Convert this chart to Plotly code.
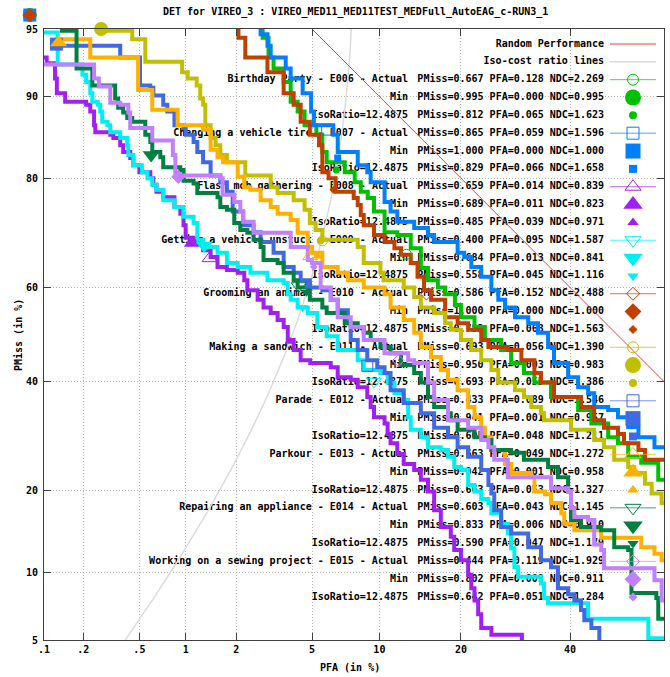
import numpy as np
import plotly.graph_objects as go
from statistics import NormalDist

# ------------------------------------------------------------------ data
TITLE = "DET for VIREO_3 : VIREO_MED11_MED11TEST_MEDFull_AutoEAG_c-RUN3_1"
X_TICKS = [0.1, 0.2, 0.5, 1, 2, 5, 10, 20, 40, 60]
X_TICK_TEXT = [".1", ".2", ".5", "1", "2", "5", "10", "20", "40", "60"]
Y_TICKS = [5, 10, 20, 40, 60, 80, 90, 95]
Y_TICK_TEXT = ["5", "10", "20", "40", "60", "80", "90", "95"]
ISO_RATIO = 12.4875

EVENTS = ["Birthday Party - E006", "Changing a vehicle tire - E007",
          "Flash mob gathering - E008", "Getting a vehicle unstuck - E009",
          "Grooming an animal - E010", "Making a sandwich - E011",
          "Parade - E012", "Parkour - E013", "Repairing an appliance - E014",
          "Working on a sewing project - E015"]
COLORS = ["#00c000", "#0080ff", "#a020f0", "#00f0f0", "#c04000",
          "#c0c000", "#4169e1", "#ffb000", "#008040", "#c080ff"]
SYMBOLS = ["circle", "square", "triangle-up", "triangle-down", "diamond",
           "circle", "square", "triangle-up", "triangle-down", "diamond"]

ACTUAL_PMISS = [0.667, 0.865, 0.659, 0.400, 0.586, 0.693, 0.433, 0.663, 0.603, 0.444]
ACTUAL_PFA = [0.128, 0.059, 0.014, 0.095, 0.152, 0.056, 0.089, 0.049, 0.043, 0.119]
ACTUAL_NDC = [2.269, 1.596, 0.839, 1.587, 2.488, 1.390, 1.546, 1.272, 1.145, 1.929]
MIN_PMISS = [0.995, 1.000, 0.689, 0.684, 1.000, 0.950, 0.941, 0.942, 0.833, 0.802]
MIN_PFA = [0.0, 0.0, 0.011, 0.013, 0.0, 0.0027, 0.00125, 0.0013, 0.006, 0.009]
MIN_NDC = [0.995, 1.000, 0.823, 0.841, 1.000, 0.983, 0.957, 0.958, 0.910, 0.911]
ISO_PMISS = [0.812, 0.829, 0.485, 0.558, 0.782, 0.693, 0.605, 0.663, 0.590, 0.642]
ISO_PFA = [0.065, 0.066, 0.039, 0.045, 0.063, 0.055, 0.048, 0.053, 0.047, 0.051]
ISO_NDC = [1.623, 1.658, 0.971, 1.116, 1.563, 1.386, 1.211, 1.327, 1.179, 1.284]

# DET curves (PFA %, PMiss %), step points
E006_PFA = [2.73, 2.80, 3.01, 3.20, 3.61, 3.92, 4.25, 4.60, 5.25, 5.60, 5.87, 7.10, 7.86, 8.35, 8.94, 9.5, 10.5, 11.8, 13.3, 14.5, 15.4, 16.7, 17.7, 19.1, 20.0, 22.1, 23.8, 26.6, 28.4, 30.8, 32.8, 36.1, 41.7, 44.5, 48.1, 50.2, 52.4, 55.2, 58.8, 62.0]
E006_PMISS = [97.0, 94.5, 93.2, 92.4, 91.3, 89.5, 88.5, 87.0, 85.9, 83.7, 82.3, 80.9, 79.4, 77.9, 76.9, 74.6, 70.9, 70.4, 67.9, 64.0, 61.5, 60.0, 58.6, 56.3, 53.7, 51.6, 48.8, 46.7, 43.9, 41.8, 39.8, 36.8, 34.2, 31.6, 29.0, 27.9, 25.5, 24.5, 21.7, 21.0]
E007_PFA = [2.63, 2.73, 2.97, 3.09, 3.70, 3.92, 4.50, 4.95, 5.1, 6.3, 6.6, 8.1, 8.9, 9.2, 10.5, 11.1, 11.8, 13.7, 15.4, 16.2, 19.5, 20.5, 21.6, 23.2, 24.9, 26.1, 27.3, 29.1, 31.6, 33.5, 35.5, 36.7, 39.6, 41.7, 43.8, 45.1, 48.1, 50.2, 52.4, 54.6, 58.0, 61.5]
E007_PMISS = [97.0, 94.7, 94.0, 93.2, 92.4, 91.6, 90.3, 88.5, 87.0, 85.9, 83.7, 81.9, 80.9, 79.4, 76.2, 74.6, 72.8, 71.7, 70.4, 69.1, 67.0, 66.2, 64.2, 62.2, 59.4, 57.4, 55.8, 53.7, 52.4, 50.4, 47.3, 43.9, 40.9, 38.8, 37.6, 34.8, 34.2, 32.8, 30.9, 29.0, 27.2, 25.5]
E008_PFA = [0.100, 0.105, 0.122, 0.126, 0.146, 0.21, 0.225, 0.24, 0.245, 0.314, 0.33, 0.369, 0.387, 0.433, 0.455, 0.50, 0.592, 0.62, 0.65, 0.72, 0.85, 0.926, 0.97, 1.0, 1.12, 1.28, 1.42, 1.56, 1.77, 2.04, 2.22, 2.31, 2.63, 2.83, 3.09, 3.36, 3.61, 3.79, 4.06, 4.40, 4.9, 6.13, 6.6, 7.55, 8.1, 8.9, 9.2, 9.5, 10.5, 10.8, 11.1, 11.8, 12.5, 13.7, 14.5, 15.4, 16.2, 17.1, 18.5, 19.0, 20.0, 21.1, 21.6, 22.1, 22.7, 23.2, 24.9, 30.4]
E008_PMISS = [93.2, 92.8, 91.6, 90.3, 89.5, 89.2, 88.5, 87.0, 86.2, 85.9, 85.5, 84.6, 83.7, 82.9, 81.9, 80.9, 80.0, 79.0, 77.9, 77.0, 75.4, 74.2, 72.2, 69.9, 68.7, 67.5, 66.2, 64.2, 63.6, 63.0, 61.5, 59.4, 57.4, 55.8, 54.6, 53.1, 51.6, 48.8, 46.7, 44.5, 43.9, 43.0, 40.9, 40.4, 38.8, 36.8, 34.8, 32.8, 31.6, 29.6, 27.9, 26.0, 24.3, 23.3, 21.7, 19.9, 17.2, 15.0, 13.8, 12.3, 11.2, 9.8, 8.6, 7.6, 6.6, 5.7, 5.3, 4.7]
E009_PFA = [0.100, 0.128, 0.197, 0.21, 0.225, 0.233, 0.255, 0.266, 0.275, 0.30, 0.314, 0.369, 0.413, 0.42, 0.455, 0.52, 0.566, 0.61, 0.65, 0.72, 0.85, 0.97, 1.12, 1.18, 1.28, 1.56, 1.77, 2.04, 2.40, 2.97, 3.61, 3.79, 3.92, 4.25, 4.77, 5.3, 5.87, 6.6, 8.1, 8.6, 10.1, 10.8, 11.5, 12.5, 13.0, 13.3, 14.5, 15.4, 17.1, 18.1, 19.0, 20.0, 21.1, 22.1, 23.2, 24.4, 24.9, 26.6, 27.8, 28.4, 29.0, 29.7, 34.1, 34.7, 35.5, 43.8, 56.7, 61.0]
E009_PMISS = [94.8, 92.7, 91.9, 91.3, 90.3, 89.5, 89.2, 88.5, 87.4, 87.0, 86.2, 85.5, 84.6, 83.3, 81.9, 80.9, 80.0, 79.0, 78.2, 76.5, 75.4, 73.7, 72.6, 69.5, 68.1, 67.0, 65.0, 64.2, 63.0, 61.5, 60.9, 58.6, 57.4, 55.8, 54.6, 51.6, 49.6, 46.7, 44.5, 42.4, 41.8, 39.8, 37.6, 36.2, 32.8, 30.4, 29.0, 27.2, 26.7, 25.5, 23.8, 23.3, 20.9, 19.9, 18.8, 18.2, 16.8, 15.4, 14.2, 12.5, 10.5, 9.6, 9.0, 7.8, 7.4, 6.3, 5.1, 5.1]
E010_PFA = [2.04, 2.06, 2.25, 2.97, 3.61, 4.06, 4.40, 4.88, 5.4, 5.6, 5.99, 6.46, 7.78, 8.1, 8.35, 8.6, 9.5, 10.5, 11.5, 12.2, 13.3, 14.1, 14.9, 15.8, 17.7, 19.5, 21.1, 23.2, 24.4, 27.8, 30.3, 32.8, 34.1, 36.7, 42.3, 45.1, 47.2, 50.2, 51.5, 54.6, 56.0, 61.5]
E010_PMISS = [97.0, 94.5, 93.2, 92.1, 90.3, 89.2, 87.4, 85.9, 84.6, 80.9, 80.0, 77.9, 76.9, 75.7, 74.0, 72.2, 70.4, 69.1, 67.9, 66.6, 65.0, 62.2, 59.4, 57.4, 53.7, 52.4, 51.0, 48.8, 47.3, 46.7, 44.5, 41.8, 39.8, 36.8, 34.8, 32.2, 30.8, 29.6, 27.9, 26.7, 25.0, 24.5]
E011_PFA = [0.266, 0.447, 0.548, 0.95, 1.03, 1.17, 1.23, 1.28, 1.32, 1.42, 1.52, 1.62, 1.77, 2.25, 3.09, 3.36, 4.06, 4.60, 4.88, 5.2, 5.6, 8.1, 8.6, 10.1, 10.4, 12.5, 13.7, 14.5, 16.2, 17.7, 18.5, 20.0, 21.6, 23.2, 24.9, 26.1, 29.1, 30.8, 32.2, 34.1, 34.7, 40.2, 45.1, 47.2, 49.4, 52.4, 53.7, 56.0, 57.4, 59.5, 61.5]
E011_PMISS = [94.9, 94.4, 92.9, 92.1, 91.6, 91.0, 89.8, 89.2, 87.0, 85.5, 84.6, 83.3, 82.3, 80.4, 78.6, 77.7, 76.5, 74.9, 72.6, 71.3, 69.5, 68.1, 65.0, 63.0, 61.5, 60.0, 58.0, 55.8, 54.6, 52.4, 51.0, 48.8, 46.7, 44.5, 42.4, 39.8, 38.2, 36.8, 34.8, 33.6, 32.2, 30.4, 28.5, 27.2, 25.0, 23.8, 22.8, 21.1, 19.6, 18.2, 17.2]
E012_PFA = [0.126, 0.369, 0.505, 0.592, 0.62, 0.72, 0.765, 0.85, 0.97, 1.0, 1.12, 1.18, 1.28, 1.42, 1.62, 1.77, 1.91, 2.19, 2.50, 2.73, 3.20, 3.61, 4.06, 4.40, 4.88, 5.6, 6.13, 6.6, 7.33, 7.55, 8.1, 8.9, 9.8, 10.5, 11.1, 12.5, 14.5, 16.2, 18.1, 19.5, 21.1, 23.2, 24.4, 24.9, 25.4, 26.6, 28.4, 31.6, 34.1, 36.1, 37.5, 39.6, 40.9, 42.3, 43.0, 44.5, 46.2]
E012_PMISS = [94.0, 93.2, 91.0, 90.8, 90.1, 89.2, 88.5, 87.0, 86.7, 85.9, 85.0, 83.7, 82.3, 80.4, 79.4, 77.9, 74.6, 72.2, 70.9, 69.1, 67.0, 64.2, 63.0, 61.5, 60.0, 59.4, 57.4, 55.2, 52.4, 48.8, 46.7, 44.5, 43.0, 41.8, 38.2, 35.6, 33.6, 30.8, 29.0, 27.2, 25.5, 23.3, 20.9, 19.6, 17.2, 15.0, 14.2, 12.6, 11.2, 10.5, 8.6, 8.1, 7.6, 6.9, 6.2, 5.7, 4.7]
E013_PFA = [0.122, 0.225, 0.49, 0.61, 0.89, 1.28, 1.42, 1.56, 1.68, 2.04, 2.22, 2.40, 2.73, 3.09, 3.36, 3.92, 4.25, 4.77, 5.0, 5.6, 6.6, 7.33, 8.6, 10.5, 11.1, 12.5, 13.7, 14.5, 15.8, 17.1, 18.1, 19.5, 21.1, 22.1, 23.2, 23.8, 24.9, 27.3, 28.4, 32.2, 32.8, 34.9, 36.1, 38.2, 38.8, 40.9, 46.6, 55.2, 58.0, 59.5, 61.0]
E013_PMISS = [94.4, 93.2, 90.6, 88.7, 87.0, 86.5, 84.0, 83.0, 82.3, 80.2, 78.6, 78.2, 76.5, 75.4, 74.2, 73.1, 70.8, 68.1, 67.0, 64.2, 63.0, 61.5, 60.0, 58.6, 55.8, 53.1, 50.4, 47.3, 45.2, 42.4, 40.4, 38.2, 34.8, 32.8, 30.8, 29.0, 26.7, 24.3, 22.8, 22.1, 19.9, 19.5, 18.2, 16.8, 15.4, 14.6, 13.7, 12.6, 11.9, 11.2, 9.8]
E014_PFA = [0.133, 0.178, 0.233, 0.340, 0.357, 0.387, 0.413, 0.447, 0.548, 0.592, 0.61, 0.689, 0.72, 0.926, 0.97, 1.12, 1.18, 1.56, 1.62, 1.77, 1.95, 2.11, 2.31, 2.50, 2.73, 2.83, 3.36, 3.61, 4.06, 4.25, 4.77, 4.88, 5.6, 5.87, 7.1, 8.1, 8.6, 9.2, 10.1, 11.1, 12.2, 13.7, 14.5, 15.4, 16.2, 18.1, 18.5, 19.5, 22.1, 23.8, 24.9, 28.4, 30.8, 35.5, 37.5, 39.6, 40.2, 42.3, 46.6, 49.4, 52.4, 53.1, 58.4, 58.8, 60.5]
E014_PMISS = [94.9, 92.4, 91.0, 89.8, 88.9, 88.4, 87.8, 87.4, 85.9, 85.0, 83.7, 83.0, 81.6, 81.2, 79.6, 79.2, 77.7, 77.0, 75.4, 74.9, 72.6, 71.3, 70.8, 69.5, 68.1, 65.6, 65.0, 63.0, 61.5, 60.0, 59.4, 57.4, 55.8, 54.6, 52.4, 51.6, 50.4, 48.8, 47.3, 46.0, 43.5, 41.8, 39.8, 36.8, 34.8, 33.6, 32.2, 30.4, 29.0, 28.5, 26.7, 26.2, 25.0, 23.8, 22.1, 19.9, 15.9, 15.0, 14.6, 12.6, 12.3, 8.2, 7.8, 6.3, 4.7]
E015_PFA = [0.100, 0.24, 0.26, 0.314, 0.369, 0.42, 0.433, 0.61, 0.83, 0.861, 1.62, 1.67, 1.95, 2.11, 2.19, 2.50, 3.92, 4.77, 5.0, 5.5, 6.13, 6.6, 7.55, 8.6, 10.5, 13.0, 13.7, 15.4, 16.2, 18.1, 21.1, 23.2, 24.4, 25.4, 27.8, 36.1, 39.6, 40.2, 40.9, 43.8, 45.1, 46.6, 47.2, 58.0, 59.5, 61.5]
E015_PMISS = [92.7, 91.6, 90.9, 89.4, 89.2, 88.4, 86.7, 85.2, 83.3, 80.4, 80.0, 77.4, 76.2, 74.6, 72.8, 70.8, 68.1, 65.6, 65.0, 60.0, 57.4, 53.7, 51.6, 48.8, 46.0, 44.5, 43.9, 39.8, 36.2, 32.2, 30.8, 28.5, 27.2, 25.0, 22.1, 20.4, 19.9, 17.5, 16.3, 15.9, 12.9, 12.3, 10.4, 9.3, 7.6, 7.3]

CURVES_PFA = [E006_PFA, E007_PFA, E008_PFA, E009_PFA, E010_PFA,
              E011_PFA, E012_PFA, E013_PFA, E014_PFA, E015_PFA]
CURVES_PMISS = [E006_PMISS, E007_PMISS, E008_PMISS, E009_PMISS, E010_PMISS,
                E011_PMISS, E012_PMISS, E013_PMISS, E014_PMISS, E015_PMISS]

# ------------------------------------------------------------------ scale (normal deviate)
ND = NormalDist()
PFA_FLOOR, PMISS_CEIL = 0.00077, 0.9573   # where 0 / 1 values are drawn (outside the frame)


def z(p):
    p = min(max(p, 1e-9), 1 - 1e-9)
    return ND.inv_cdf(p)


def zx(p):
    return z(max(p, PFA_FLOOR))


def zy(p):
    return z(min(p, PMISS_CEIL))


W, H = 670, 677
L, R, T, B = 44, 664, 29, 640
X0, X1 = z(0.001), z(0.60)
Y0, Y1 = z(0.05), z(0.95)


def px2x(px):
    return X0 + (px - L) / (R - L) * (X1 - X0)


def py2y(py):
    return Y1 - (py - T) / (B - T) * (Y1 - Y0)


MONO = "DejaVu Sans Mono"
TXT = dict(family=MONO, size=10, color="black", weight="bold")
MIN_SIZE = {"circle": 14, "square": 13, "triangle-up": 15, "triangle-down": 15, "diamond": 11}
ISO_SIZE = {"circle": 7, "square": 7, "triangle-up": 9, "triangle-down": 9, "diamond": 6}
ACT_SIZE = {"circle": 10, "square": 11, "triangle-up": 13, "triangle-down": 13, "diamond": 9}

fig = go.Figure()
shapes = []

# ------------------------------------------------------------------ legend text (under the curves)
LEG_Y0, LEG_DY = 44, 17.84
row_y = lambda i: py2y(LEG_Y0 + i * LEG_DY)

left_txt, left_y, right_txt, right_y = [], [], [], []
right_txt += ["Random Performance", "Iso-cost ratio lines"]
right_y += [row_y(0), row_y(1)]
for i, ev in enumerate(EVENTS):
    rows = [(ev + " - Actual", ACTUAL_PMISS[i], ACTUAL_PFA[i], ACTUAL_NDC[i]),
            ("Min", MIN_PMISS[i], MIN_PFA[i], MIN_NDC[i]),
            ("IsoRatio=%g" % ISO_RATIO, ISO_PMISS[i], ISO_PFA[i], ISO_NDC[i])]
    for k, (lab, pm, pf, nd) in enumerate(rows):
        r = 2 + 3 * i + k
        left_txt.append(lab)
        left_y.append(row_y(r))
        right_txt.append("PMiss=%.3f PFA=%.3f NDC=%.3f" % (pm, pf, nd))
        right_y.append(row_y(r))

fig.add_trace(go.Scatter(x=[px2x(408)] * len(left_txt), y=left_y, mode="text",
                         text=left_txt, textposition="middle left", textfont=TXT,
                         hoverinfo="skip", showlegend=False, cliponaxis=False))
fig.add_trace(go.Scatter(x=[px2x(604)] * len(right_txt), y=right_y, mode="text",
                         text=right_txt, textposition="middle left", textfont=TXT,
                         hoverinfo="skip", showlegend=False, cliponaxis=False))

# ------------------------------------------------------------------ reference lines
iso_pfa = np.geomspace(0.002, 0.08, 300)
fig.add_trace(go.Scatter(x=[z(p) for p in iso_pfa], y=[z(ISO_RATIO * p) for p in iso_pfa],
                         mode="lines", line=dict(color="#dcdcdc", width=1.5),
                         hoverinfo="skip", showlegend=False))
rand_pfa = [0.001, 0.60]
fig.add_trace(go.Scatter(x=[z(p) for p in rand_pfa], y=[z(1 - p) for p in rand_pfa],
                         mode="lines", line=dict(color="#f04040", width=1),
                         hoverinfo="skip", showlegend=False))


def outside_marker_shape(xv, yv, sym, size, col):
    """Markers whose centre lies outside the frame (PFA=0 / PMiss=1) -> paper shapes."""
    cx = (xv - X0) / (X1 - X0)
    cy = (yv - Y0) / (Y1 - Y0)
    hx, hy = size / 2 / (R - L), size / 2 / (B - T)
    base = dict(xref="paper", yref="paper", fillcolor=col, line=dict(width=0), layer="above")
    if sym == "circle":
        return dict(type="circle", x0=cx - hx, x1=cx + hx, y0=cy - hy, y1=cy + hy, **base)
    if sym == "square":
        return dict(type="rect", x0=cx - hx, x1=cx + hx, y0=cy - hy, y1=cy + hy, **base)
    dx, dy = hx * 1.3, hy * 1.3
    path = "M %f %f L %f %f L %f %f L %f %f Z" % (cx - dx, cy, cx, cy + dy, cx + dx, cy, cx, cy - dy)
    return dict(type="path", path=path, **base)


# ------------------------------------------------------------------ curves
for i in range(len(EVENTS)):
    fig.add_trace(go.Scatter(x=[z(v / 100) for v in CURVES_PFA[i]],
                             y=[z(v / 100) for v in CURVES_PMISS[i]],
                             mode="lines", line=dict(color=COLORS[i], width=4, shape="hv"),
                             hoverinfo="skip", showlegend=False))

# ------------------------------------------------------------------ operating points (on top)
for i in range(len(EVENTS)):
    col, sym = COLORS[i], SYMBOLS[i]
    fig.add_trace(go.Scatter(x=[zx(ACTUAL_PFA[i])], y=[zy(ACTUAL_PMISS[i])], mode="markers",
                             marker=dict(symbol=sym + "-open", size=ACT_SIZE[sym], color=col,
                                         line=dict(color=col, width=1)),
                             hoverinfo="skip", showlegend=False, cliponaxis=False))
    mx, my = zx(MIN_PFA[i]), zy(MIN_PMISS[i])
    if mx < X0 or my > Y1:
        shapes.append(outside_marker_shape(mx, my, sym, MIN_SIZE[sym], col))
    else:
        fig.add_trace(go.Scatter(x=[mx], y=[my], mode="markers",
                                 marker=dict(symbol=sym, size=MIN_SIZE[sym], color=col, line=dict(width=0)),
                                 hoverinfo="skip", showlegend=False, cliponaxis=False))
    fig.add_trace(go.Scatter(x=[zx(ISO_PFA[i])], y=[zy(ISO_PMISS[i])], mode="markers",
                             marker=dict(symbol=sym, size=ISO_SIZE[sym], color=col, line=dict(width=0)),
                             hoverinfo="skip", showlegend=False, cliponaxis=False))

# ------------------------------------------------------------------ legend keys
KX0, KX1, KXM = px2x(610), px2x(656), px2x(633)
fig.add_trace(go.Scatter(x=[KX0, KX1], y=[row_y(0)] * 2, mode="lines",
                         line=dict(color="#f04040", width=1), hoverinfo="skip", showlegend=False))
fig.add_trace(go.Scatter(x=[KX0, KX1], y=[row_y(1)] * 2, mode="lines",
                         line=dict(color="#dcdcdc", width=1.5), hoverinfo="skip", showlegend=False))
for i in range(len(EVENTS)):
    col, sym = COLORS[i], SYMBOLS[i]
    r = 2 + 3 * i
    fig.add_trace(go.Scatter(x=[KX0, KX1], y=[row_y(r)] * 2, mode="lines",
                             line=dict(color=col, width=1), opacity=0.7,
                             hoverinfo="skip", showlegend=False))
    fig.add_trace(go.Scatter(x=[KXM], y=[row_y(r)], mode="markers",
                             marker=dict(symbol=sym + "-open", size=ACT_SIZE[sym] + 1, color=col,
                                         line=dict(color=col, width=1)),
                             hoverinfo="skip", showlegend=False))
    fig.add_trace(go.Scatter(x=[KXM], y=[row_y(r + 1)], mode="markers",
                             marker=dict(symbol=sym, size=MIN_SIZE[sym] + 2, color=col, line=dict(width=0)),
                             hoverinfo="skip", showlegend=False))
    fig.add_trace(go.Scatter(x=[KXM], y=[row_y(r + 2)], mode="markers",
                             marker=dict(symbol=sym, size=ISO_SIZE[sym] + 1, color=col, line=dict(width=0)),
                             hoverinfo="skip", showlegend=False))

# ------------------------------------------------------------------ layout
axis_common = dict(showline=True, linecolor="#404040", linewidth=1, mirror="ticks",
                   ticks="inside", ticklen=7, tickcolor="#404040",
                   showgrid=True, gridcolor="#b4b4b4", griddash="1px,2px", gridwidth=1,
                   zeroline=False, tickfont=TXT)
fig.update_layout(
    width=W, height=H,
    margin=dict(l=L, r=W - R, t=T, b=H - B),
    paper_bgcolor="white", plot_bgcolor="white",
    showlegend=False,
    shapes=shapes,
    xaxis=dict(range=[X0, X1], tickmode="array", tickvals=[z(v / 100) for v in X_TICKS],
               ticktext=X_TICK_TEXT, **axis_common),
    yaxis=dict(range=[Y0, Y1], tickmode="array", tickvals=[z(v / 100) for v in Y_TICKS],
               ticktext=Y_TICK_TEXT, ticklabelstandoff=3, **axis_common),
    annotations=[
        dict(text=TITLE, x=(356 - L) / (R - L), y=(B - 12) / (B - T), xref="paper", yref="paper",
             showarrow=False, xanchor="center", yanchor="middle", font=TXT),
        dict(text="PFA (in %)", x=(350 - L) / (R - L), y=(B - 667) / (B - T), xref="paper", yref="paper",
             showarrow=False, xanchor="center", yanchor="middle", font=TXT),
        dict(text="PMiss (in %)", x=(18 - L) / (R - L), y=(B - 335) / (B - T), xref="paper", yref="paper",
             showarrow=False, xanchor="center", yanchor="middle", textangle=-90, font=TXT),
    ],
)

fig.write_html("out.html", config={"displayModeBar": False},
               post_script="document.body.style.margin='0px';document.body.style.overflow='hidden';")
